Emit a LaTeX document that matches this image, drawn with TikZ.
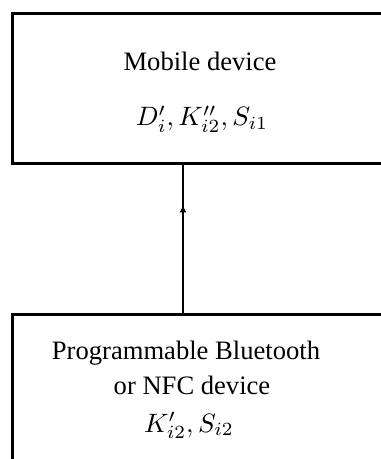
\documentclass[tikz,border=0pt]{standalone}
\usepackage{fontspec}
\setmainfont{Liberation Serif}
\usetikzlibrary{positioning}
\usetikzlibrary{arrows.meta,decorations.markings}

\begin{document}
\begin{tikzpicture}[x=0.376pt, y=0.376pt, line width=1.13pt,
        main/.style = {draw, rectangle, inner sep=0pt, anchor=north west},
        txt/.style = {anchor=base, inner sep=0pt, font=\fontsize{10}{12}\selectfont}]
        \clip (0,0) rectangle (381,459);
        % Boxes
        \node[main, minimum width=142.7pt, minimum height=56.4pt] (1) at (10.5,447) {};
        \node[main, minimum width=146pt, minimum height=62pt] (2) at (10.5,146) {};
        % Labels
        \node[txt] (mob) at (200,388) {Mobile device};
        \node[txt] (mobkeys) at (202,333) {$D'_i, K''_{i2}, S_{i1}$};
        \node[txt] (prog) at (186,99) {Programmable Bluetooth};
        \node[txt] (nfc) at (192,64) {or NFC device};
        \node[txt] (progkeys) at (189,27) {$K'_{i2}, S_{i2}$};
        % Edge
        \coordinate (a) at (183,0);
        \draw[line width=0.75pt, postaction={decorate},
            decoration={markings, mark=at position 0.73 with {\arrow{Latex[length=2.8pt,width=2.6pt]}}}]
            (2.north -| a) -- (1.south -| a);
    \end{tikzpicture}
\end{document}
